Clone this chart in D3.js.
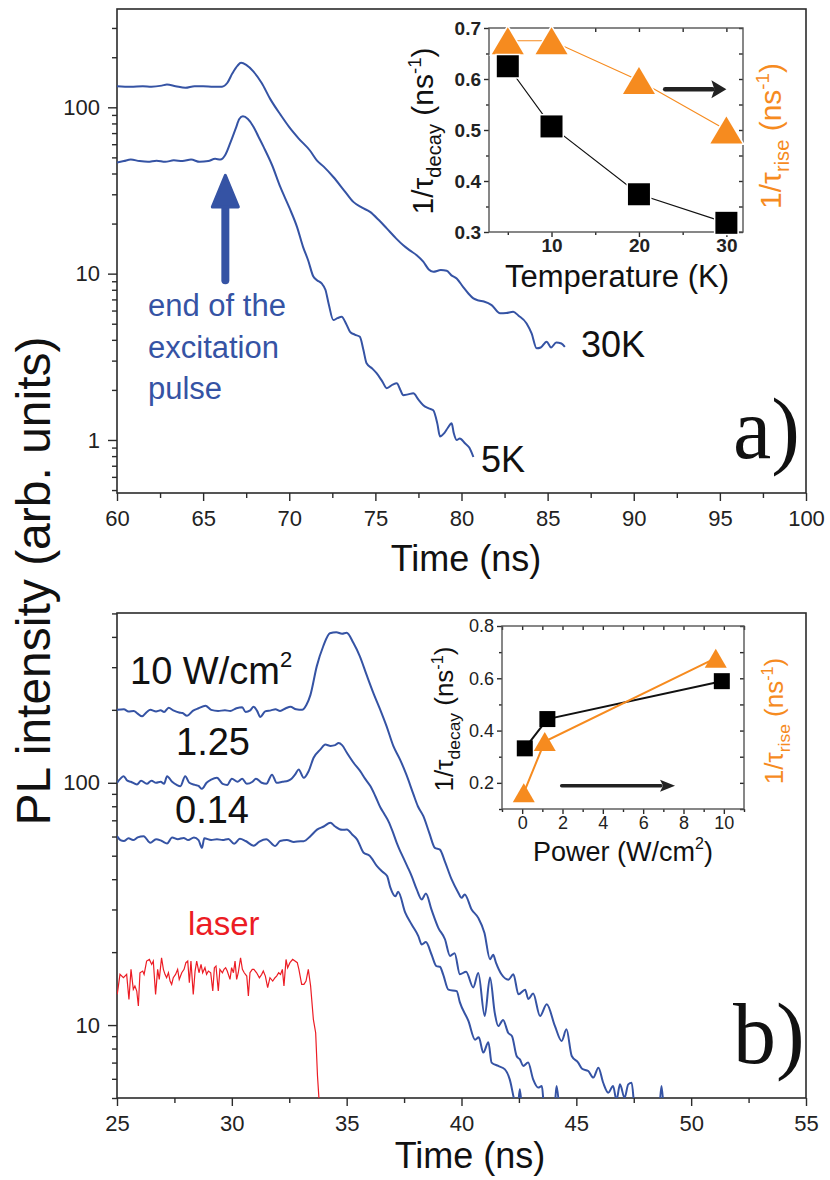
<!DOCTYPE html>
<html>
<head>
<meta charset="utf-8">
<script src="https://cdn.jsdelivr.net/npm/d3@7"></script>
<style>
body { margin: 0; background: #fff; }
</style>
</head>
<body>
<svg id="fig" width="830" height="1180" font-family='"Liberation Sans", Arial, Helvetica, sans-serif'></svg>
<script>
// ---------- panel a : PL transients vs temperature ----------
var t30K = [60.0,60.8,61.5,62.0,62.6,62.9,63.4,63.97,64.5,65.0,65.6,66.1,66.4,66.7,67.0,67.2,67.5,67.9,68.4,68.9,69.5,70.0,70.55,71.2,71.6,72.0,72.56,73.2,73.72,74.2,74.69,75.2,75.66,76.2,76.62,77.0,77.4,77.78,78.1,78.36,78.8,79.14,79.4,79.72,80.1,80.4,80.69,81.0,81.3,81.75,82.24,82.6,83.0,83.3,83.78,84.07,84.36,84.6,84.94,85.2,85.5,85.8,86.0];
var i30K = [134,133,134,133,135,137,134,131,134,134,133,133,140,160,178,185,180,165,140,112,90,76,64.9,55,48,44,38.1,31.5,27,25,23.5,21,18.7,16.3,14.8,13.8,12.9,11.8,10.6,10.25,10.5,10.4,9.8,9.35,8.3,7.6,7.1,6.9,6.8,6.47,5.77,5.8,5.9,5.6,5.02,4.37,3.56,3.6,3.9,3.6,3.85,3.8,3.63];
var t5K = [60.0,60.4,60.8,61.3,61.8,62.3,62.8,63.3,63.8,64.3,64.8,65.3,65.7,66.0,66.3,66.6,66.9,67.1,67.31,67.6,67.93,68.2,68.51,69.0,69.48,70.0,70.45,70.8,71.1,71.4,71.61,71.88,72.1,72.3,72.56,72.8,73.04,73.3,73.53,73.8,74.1,74.3,74.49,74.8,75.07,75.4,75.66,76.0,76.24,76.45,76.62,76.9,77.2,77.5,77.78,78.1,78.36,78.6,78.75,79.0,79.2,79.43,79.55,79.72,79.9,80.2,80.45,80.69];
var i5K = [46.5,47.5,48.5,47.5,47.0,47.8,47.0,48.0,47.5,48.5,47.0,47.5,49.0,48.5,52,62,75,85,88.3,85,76.2,67,57.8,45,33.2,25,19.1,14.5,12,9.6,9.14,8.73,8.0,6.5,5.26,5.4,5.5,5.0,4.47,4.3,4.17,3.5,2.89,2.7,2.52,2.25,2.05,2.15,2.19,2.0,1.86,1.88,1.91,1.75,1.62,1.55,1.51,1.25,1.05,1.1,1.18,1.26,1.1,1.0,1.02,0.955,0.9,0.79];

var xTicksA = [60,65,70,75,80,85,90,95,100];
var yTicksA = [1,10,100];

// inset a : rates vs temperature
var tempK = [5,10,20,30];
var decayA = [0.625,0.507,0.374,0.318];
var riseA = [0.675,0.675,0.597,0.50];
var insetAx = [10,20,30];
var insetAy = [0.3,0.4,0.5,0.6,0.7];

// ---------- panel b : PL transients vs power ----------
var t10W = [25.0,25.3,25.5,25.73,25.9,26.09,26.3,26.45,26.7,26.9,27.05,27.25,27.45,27.7,27.85,28.05,28.3,28.55,28.85,29.1,29.4,29.7,29.93,30.2,30.45,30.6,30.8,30.95,31.1,31.24,31.45,31.7,31.9,32.1,32.35,32.55,32.8,33.06,33.25,33.42,33.7,33.98,34.27,34.55,34.8,35.0,35.29,35.57,35.86,36.16,36.52,36.74,37.03,37.32,37.6,37.9,38.1,38.34,38.6,38.84,39.06,39.27,39.57,39.86,40.0,40.14,40.44,40.73,41.0,41.24,41.38,41.5,41.74,42.04,42.26,42.48,42.77,42.91,43.12,43.42,43.71,44.07,44.36,44.57,44.8,45.08,45.25,45.52,45.74,45.96,46.17,46.39,46.6,46.75,46.9,47.1,47.26,47.41,47.55,48.6,48.71,48.8];
var i10W = [200,201,197,198,193,188,196,200,197,199,196,204,199,195,194,189,198,203,208,200,198,199,198,203,205,196,199,206,198,187,197,199,201,198,203,206,201,200,210,230,303,366,414,418,412,416,378,333,280,235,194,171,142,125,108,90,80,72.8,62,53.9,53,47.5,39.9,35.2,33.5,34.6,30,27.7,24,18.7,19.5,18.1,16.2,15.4,16.2,13.4,14,12.8,13.5,10.9,12.2,9.9,8.6,9.6,7.45,7.0,6.6,6.46,6.07,6.67,5.78,5.26,5.6,4.9,5.7,5.0,5.69,5.78,4.5,4.5,5.6,4.5];
var t125 = [25.0,25.15,25.29,25.45,25.6,25.87,26.05,26.3,26.5,26.7,26.9,27.05,27.18,27.4,27.6,27.76,27.97,28.15,28.4,28.55,28.7,28.9,29.1,29.35,29.6,29.8,30.0,30.25,30.45,30.65,30.9,31.05,31.3,31.5,31.75,31.95,32.2,32.45,32.6,32.75,32.91,33.13,33.35,33.56,33.85,34.07,34.3,34.5,34.65,34.8,35.01,35.3,35.59,35.8,36.03,36.25,36.47,36.65,36.83,37.0,37.18,37.34,37.47,37.65,37.83,38.05,38.27,38.45,38.69,38.99,39.28,39.5,39.7,39.93,40.2,40.51,40.73,41.01,41.24,41.45,41.6,41.81,42.03,42.2,42.4,42.55,42.69,42.9,43.12,43.34,43.5,43.6,44.05,44.14,44.25];
var i125 = [100,104,106.5,102,101,98.4,102,99,102,100,101,99,106.5,101,98,96.8,106.5,100,98,97,94.4,100,103,104.8,99,98,104,101,104,99,101,104,100,99,108,100,101,102,104,108,113.5,104.8,112,126.8,137,143.8,142,143,146,143,133,121,111.7,104,96.9,88,79,74,69,63,56.5,52,49,45,41.2,36.3,33,34.9,30,25.2,22.6,19.3,19.8,16.2,16.6,14.3,16.4,10.9,15.7,11.2,9.9,10.5,9.3,9.0,7.45,7.2,6.78,7.0,5.97,5.52,5.6,4.6,4.6,5.6,4.6];
var t014 = [25.0,25.15,25.3,25.5,25.7,25.9,26.16,26.45,26.7,26.95,27.18,27.4,27.65,27.9,28.1,28.35,28.55,28.7,28.8,29.1,29.35,29.6,29.85,30.1,30.35,30.6,30.95,31.2,31.5,31.89,32.1,32.4,32.7,33.0,33.13,33.42,33.71,34.0,34.29,34.5,34.8,35.01,35.25,35.45,35.74,36.0,36.32,36.55,36.76,36.9,37.12,37.24,37.55,37.83,38.12,38.27,38.45,38.69,38.91,39.06,39.2,39.43,39.79,39.93,40.3,40.59,40.75,40.95,41.17,41.31,41.6,41.89,42.1,42.33,42.45,42.54,42.62];
var i014 = [60.2,58,57.5,59,58,59.5,60.2,56.5,58.5,57.5,56.2,59.5,58.5,59.2,58,59.5,58,53.9,59,58,58.5,58,58.6,56,58.7,57.5,55,57.2,58.5,54.8,57.5,58,57,57.4,57.4,60.2,64.1,66,68.4,66,64,64.1,61,58.4,51.4,50,45.3,43,41.2,37,34,35.5,29.1,26,23.3,21.5,22,19.6,17.5,17.4,16.2,14,13.8,12.4,10.4,8.7,8.9,7.7,8.5,7.0,6.78,6.56,5.97,4.8,4.6,5.43,4.6];
var tLaser = [25.01,25.13,25.28,25.42,25.52,25.61,25.71,25.78,25.86,25.93,26.00,26.12,26.18,26.29,26.41,26.51,26.58,26.68,26.77,26.84,26.94,27.02,27.09,27.16,27.24,27.31,27.38,27.45,27.55,27.64,27.71,27.82,27.92,28.00,28.08,28.15,28.22,28.32,28.40,28.47,28.57,28.66,28.73,28.83,28.90,28.98,29.08,29.17,29.24,29.31,29.41,29.48,29.59,29.66,29.73,29.80,29.92,29.99,30.07,30.14,30.21,30.28,30.38,30.46,30.54,30.65,30.72,30.79,30.89,30.96,31.08,31.20,31.30,31.37,31.46,31.56,31.66,31.78,31.88,31.95,32.04,32.12,32.20,32.27,32.36,32.43,32.53,32.65,32.75,32.85,32.92,33.04,33.14,33.23,33.33,33.43,33.55,33.65,33.73,33.79,33.80];
var iLaser = [13.39,16.19,15.68,16.19,12.76,16.98,14.04,14.49,13.82,11.98,16.44,16.71,16.19,18.37,18.66,17.80,18.37,13.39,16.98,15.43,18.96,16.98,16.19,15.68,16.44,15.19,14.72,15.68,16.19,16.98,15.43,16.44,16.98,18.09,18.37,14.96,18.37,13.39,16.71,18.37,16.44,17.80,16.44,17.25,16.19,16.71,16.44,13.82,17.25,17.52,13.82,16.98,16.44,16.98,17.25,16.71,15.43,17.25,16.44,18.37,15.43,16.44,18.96,16.98,16.44,15.93,13.18,16.44,16.98,16.98,16.44,15.68,16.19,16.71,15.93,14.26,15.68,15.19,15.68,15.93,16.44,16.19,16.98,14.49,18.66,17.25,18.09,18.66,18.37,18.09,16.98,14.72,14.72,15.19,16.98,14.49,10.56,9.30,6.16,5.03,4.5];

var xTicksB = [25,30,35,40,45,50,55];
var yTicksB = [10,100];

// inset b : rates vs power
var powerDecay = [0.13,1.25,9.9];
var decayB = [0.332,0.444,0.589];
var powerRise = [0.08,1.12,9.6];
var riseB = [0.162,0.358,0.677];
var insetBx = [0,2,4,6,8,10];
var insetBy = [0.2,0.4,0.6,0.8];

var blue = "#3553a4", orange = "#f68b1f", red = "#ec1c24", axisCol = "#2b2b2b";
var sans = '"Liberation Sans", Arial, Helvetica, sans-serif';
var serif = '"Liberation Serif", "Times New Roman", serif';

var svg = d3.select("#fig");
function zip(a, b) { return a.map(function(d, i) { return [d, b[i]]; }); }

// triangle centred on its bounding box (Origin style)
function triSymbol(w, h) {
  return { draw: function(ctx) {
    ctx.moveTo(0, -h / 2); ctx.lineTo(w / 2, h / 2); ctx.lineTo(-w / 2, h / 2); ctx.closePath();
  } };
}

function styleAxis(g, fs, weight) {
  g.attr("font-family", sans);
  g.select(".domain").remove();
  g.selectAll(".tick line").attr("stroke", axisCol).attr("stroke-width", 1.4);
  g.selectAll(".tick text").attr("fill", "#222").attr("font-size", fs)
    .attr("font-weight", weight || "normal");
}

// ---------- main panels ----------
function mainPanel(x, y, xt, yt, minorX, id) {
  var x0 = x.range()[0], x1 = x.range()[1], y0 = y.range()[0], y1 = y.range()[1];
  svg.append("clipPath").attr("id", id).append("rect")
    .attr("x", x0).attr("y", y1).attr("width", x1 - x0).attr("height", y0 - y1);
  var gx = svg.append("g").attr("transform", "translate(0," + y0 + ")")
    .call(d3.axisBottom(x).tickValues(xt).tickSize(8).tickPadding(9).tickFormat(d3.format("")));
  styleAxis(gx, 22);
  var gxm = svg.append("g").attr("transform", "translate(0," + y0 + ")")
    .call(d3.axisBottom(x).tickValues(minorX).tickSize(5).tickFormat(""));
  styleAxis(gxm, 22);
  var minorY = y.ticks().filter(function(d) { return yt.indexOf(d) < 0; });
  var gy = svg.append("g").attr("transform", "translate(" + x0 + ",0)")
    .call(d3.axisLeft(y).tickValues(yt).tickSize(9).tickPadding(8).tickFormat(d3.format("")));
  styleAxis(gy, 22);
  var gym = svg.append("g").attr("transform", "translate(" + x0 + ",0)")
    .call(d3.axisLeft(y).tickValues(minorY).tickSize(5).tickFormat(""));
  styleAxis(gym, 22);
  svg.append("rect").attr("x", x0).attr("y", y1).attr("width", x1 - x0).attr("height", y0 - y1)
    .attr("fill", "none").attr("stroke", axisCol).attr("stroke-width", 1.6);
}

var xA = d3.scaleLinear().domain([60, 100]).range([117, 806]);
var yA = d3.scaleLog().domain([0.48, 390]).range([493, 9]);
mainPanel(xA, yA, xTicksA, yTicksA, xTicksA.slice(0, -1).map(function(d) { return d + 2.5; }), "clipA");

var lineA = d3.line().x(function(d) { return xA(d[0]); }).y(function(d) { return yA(d[1]); }).curve(d3.curveMonotoneX);
var gA = svg.append("g").attr("clip-path", "url(#clipA)");
[[t30K, i30K], [t5K, i5K]].forEach(function(s) {
  gA.append("path").datum(zip(s[0], s[1])).attr("d", lineA)
    .attr("fill", "none").attr("stroke", blue).attr("stroke-width", 2);
});

// excitation-end arrow (data units)
var arrT = 66.29, arrTip = 39, arrBase = 25.2, arrEnd = 9.14;
svg.append("line").attr("x1", xA(arrT)).attr("x2", xA(arrT)).attr("y1", yA(arrBase) - 2).attr("y2", yA(arrEnd))
  .attr("stroke", blue).attr("stroke-width", 8).attr("stroke-linecap", "round");
svg.append("path").attr("fill", blue).attr("stroke", blue).attr("stroke-width", 3).attr("stroke-linejoin", "round")
  .attr("d", "M" + xA(arrT) + "," + yA(arrTip) + "L" + (xA(arrT) + 13) + "," + yA(arrBase) + "L" + (xA(arrT) - 13) + "," + yA(arrBase) + "Z");

var note = svg.append("text").attr("fill", blue).attr("font-size", 31);
note.append("tspan").attr("x", 148).attr("y", 316).text("end of the");
note.append("tspan").attr("x", 148).attr("y", 358).text("excitation");
note.append("tspan").attr("x", 148).attr("y", 399).text("pulse");

svg.append("text").attr("x", 581).attr("y", 357).attr("font-size", 36).attr("fill", "#111").text("30K");
svg.append("text").attr("x", 481).attr("y", 472).attr("font-size", 36).attr("fill", "#111").text("5K");
svg.append("text").attr("x", 733).attr("y", 458).attr("font-size", 86).attr("fill", "#111")
  .attr("font-family", serif).text("a)");
svg.append("text").attr("x", 466).attr("y", 571).attr("text-anchor", "middle").attr("font-size", 36).attr("fill", "#111").text("Time (ns)");

// ---------- panel b ----------
var xB = d3.scaleLinear().domain([25, 55]).range([117, 806]);
var yB = d3.scaleLog().domain([5, 502]).range([1098, 613]);
mainPanel(xB, yB, xTicksB, yTicksB, xTicksB.slice(0, -1).map(function(d) { return d + 2.5; }), "clipB");

var lineB = d3.line().x(function(d) { return xB(d[0]); }).y(function(d) { return yB(d[1]); }).curve(d3.curveMonotoneX);
var gB = svg.append("g").attr("clip-path", "url(#clipB)");
[[t10W, i10W], [t125, i125], [t014, i014]].forEach(function(s) {
  gB.append("path").datum(zip(s[0], s[1])).attr("d", lineB)
    .attr("fill", "none").attr("stroke", blue).attr("stroke-width", 2);
});
gB.append("path").datum(zip(tLaser, iLaser))
  .attr("d", d3.line().x(function(d) { return xB(d[0]); }).y(function(d) { return yB(d[1]); }))
  .attr("fill", "none").attr("stroke", red).attr("stroke-width", 1.2);

var lab10 = svg.append("text").attr("x", 130).attr("y", 684).attr("font-size", 38).attr("fill", "#111");
lab10.append("tspan").text("10 W/cm");
lab10.append("tspan").attr("font-size", 22).attr("dy", -17).text("2");
svg.append("text").attr("x", 176).attr("y", 755).attr("font-size", 38).attr("fill", "#111").text("1.25");
svg.append("text").attr("x", 175).attr("y", 823).attr("font-size", 38).attr("fill", "#111").text("0.14");
svg.append("text").attr("x", 188).attr("y", 935).attr("font-size", 33).attr("fill", red).text("laser");
svg.append("text").attr("x", 733).attr("y", 1063).attr("font-size", 86).attr("fill", "#111")
  .attr("font-family", serif).text("b)");
svg.append("text").attr("x", 470).attr("y", 1168).attr("text-anchor", "middle").attr("font-size", 36).attr("fill", "#111").text("Time (ns)");

svg.append("text").attr("transform", "translate(50,581) rotate(-90)").attr("text-anchor", "middle")
  .attr("font-size", 48).attr("fill", "#111").text("PL intensity (arb. units)");

// ---------- insets ----------
function tauLabel(x, y, sub, size, color) {
  var t = svg.append("text").attr("transform", "translate(" + x + "," + y + ") rotate(-90)")
    .attr("text-anchor", "middle").attr("font-size", size).attr("fill", color);
  t.append("tspan").text("1/\u03c4");
  t.append("tspan").attr("font-size", size * 0.67).attr("dy", size * 0.25).text(sub);
  t.append("tspan").attr("dy", -size * 0.25).text(" (ns");
  t.append("tspan").attr("font-size", size * 0.62).attr("dy", -size * 0.4).text("-1");
  t.append("tspan").attr("dy", size * 0.4).text(")");
}

function insetFrame(x, y, xt, yt, minorX, minorY, fs, weight, fmtY) {
  var x0 = x.range()[0], x1 = x.range()[1], y0 = y.range()[0], y1 = y.range()[1];
  var g = svg.append("g");
  var bx = g.append("g").attr("transform", "translate(0," + y0 + ")")
    .call(d3.axisBottom(x).tickValues(xt).tickSize(5).tickPadding(2).tickFormat(d3.format("")));
  styleAxis(bx, fs, weight);
  styleAxis(g.append("g").attr("transform", "translate(0," + y0 + ")")
    .call(d3.axisBottom(x).tickValues(minorX).tickSize(3).tickFormat("")), fs);
  styleAxis(g.append("g").attr("transform", "translate(0," + y1 + ")")
    .call(d3.axisBottom(x).tickValues(xt.concat(minorX)).tickSize(4).tickFormat("")), fs);
  var ly = g.append("g").attr("transform", "translate(" + x0 + ",0)")
    .call(d3.axisLeft(y).tickValues(yt).tickSize(5).tickPadding(3).tickFormat(d3.format(fmtY)));
  styleAxis(ly, fs, weight);
  styleAxis(g.append("g").attr("transform", "translate(" + x0 + ",0)")
    .call(d3.axisLeft(y).tickValues(minorY).tickSize(3).tickFormat("")), fs);
  styleAxis(g.append("g").attr("transform", "translate(" + x1 + ",0)")
    .call(d3.axisLeft(y).tickValues(yt.concat(minorY)).tickSize(4).tickFormat("")), fs);
  g.append("rect").attr("x", x0).attr("y", y1).attr("width", x1 - x0).attr("height", y0 - y1)
    .attr("fill", "none").attr("stroke", "#555").attr("stroke-width", 1.4);
}

function drawArrow(x1, x2, y, head, half, width, color) {
  svg.append("line").attr("x1", x1).attr("x2", x2 - head + 1).attr("y1", y).attr("y2", y)
    .attr("stroke", color).attr("stroke-width", width).attr("stroke-linecap", "round");
  svg.append("path").attr("fill", color)
    .attr("d", "M" + x2 + "," + y + "L" + (x2 - head) + "," + (y - half) + "L" + (x2 - head + 3) + "," + y + "L" + (x2 - head) + "," + (y + half) + "Z");
}

// inset a
var xIa = d3.scaleLinear().domain([2.85, 31.9]).range([489, 743]);
var yIa = d3.scaleLinear().domain([0.3, 0.7]).range([232, 28]);
insetFrame(xIa, yIa, insetAx, insetAy, [5, 15, 25], [0.35, 0.45, 0.55, 0.65], 19, "bold", ".1f");

svg.append("path").datum(zip(tempK, riseA))
  .attr("d", d3.line().x(function(d) { return xIa(d[0]); }).y(function(d) { return yIa(d[1]); }))
  .attr("fill", "none").attr("stroke", orange).attr("stroke-width", 1.1);
svg.selectAll(".triA").data(zip(tempK, riseA)).enter().append("path")
  .attr("transform", function(d) { return "translate(" + xIa(d[0]) + "," + yIa(d[1]) + ")"; })
  .attr("d", d3.symbol().type(triSymbol(32, 27)))
  .attr("fill", orange).attr("stroke", "#fff").attr("stroke-width", 3).attr("paint-order", "stroke");
svg.append("path").datum(zip(tempK, decayA))
  .attr("d", d3.line().x(function(d) { return xIa(d[0]); }).y(function(d) { return yIa(d[1]); }))
  .attr("fill", "none").attr("stroke", "#111").attr("stroke-width", 1.2);
svg.selectAll(".sqA").data(zip(tempK, decayA)).enter().append("path")
  .attr("transform", function(d) { return "translate(" + xIa(d[0]) + "," + yIa(d[1]) + ")"; })
  .attr("d", d3.symbol().type(d3.symbolSquare).size(22 * 22))
  .attr("fill", "#000").attr("stroke", "#fff").attr("stroke-width", 3).attr("paint-order", "stroke");
drawArrow(xIa(23), xIa(30), yIa(0.58), 15, 9, 4.5, "#222");

tauLabel(433, 131, "decay", 30, "#111");
tauLabel(781, 136, "rise", 30, orange);
svg.append("text").attr("x", 617).attr("y", 287).attr("text-anchor", "middle").attr("font-size", 31).attr("fill", "#111").text("Temperature (K)");

// inset b
var xIb = d3.scaleLinear().domain([-1, 11]).range([502, 744]);
var yIb = d3.scaleLinear().domain([0.1, 0.8]).range([809, 626]);
insetFrame(xIb, yIb, insetBx, insetBy, [-1, 1, 3, 5, 7, 9, 11], [0.1, 0.3, 0.5, 0.7], 18, "normal", ".1f");

svg.append("path").datum(zip(powerDecay, decayB))
  .attr("d", d3.line().x(function(d) { return xIb(d[0]); }).y(function(d) { return yIb(d[1]); }))
  .attr("fill", "none").attr("stroke", "#111").attr("stroke-width", 2);
svg.selectAll(".sqB").data(zip(powerDecay, decayB)).enter().append("path")
  .attr("transform", function(d) { return "translate(" + xIb(d[0]) + "," + yIb(d[1]) + ")"; })
  .attr("d", d3.symbol().type(d3.symbolSquare).size(16 * 16))
  .attr("fill", "#000");
svg.append("path").datum(zip(powerRise, riseB))
  .attr("d", d3.line().x(function(d) { return xIb(d[0]); }).y(function(d) { return yIb(d[1]); }))
  .attr("fill", "none").attr("stroke", orange).attr("stroke-width", 2);
svg.selectAll(".triB").data(zip(powerRise, riseB)).enter().append("path")
  .attr("transform", function(d) { return "translate(" + xIb(d[0]) + "," + yIb(d[1]) + ")"; })
  .attr("d", d3.symbol().type(triSymbol(22, 19)))
  .attr("fill", orange);
drawArrow(xIb(1.96), xIb(7.58), yIb(0.189), 15, 6, 3.5, "#222");

tauLabel(453, 719, "decay", 26, "#111");
tauLabel(783, 721, "rise", 26, orange);
var pw = svg.append("text").attr("x", 623).attr("y", 861).attr("text-anchor", "middle").attr("font-size", 27).attr("fill", "#111");
pw.append("tspan").text("Power (W/cm");
pw.append("tspan").attr("font-size", 16).attr("dy", -12).text("2");
pw.append("tspan").attr("dy", 12).text(")");
</script>
</body>
</html>
